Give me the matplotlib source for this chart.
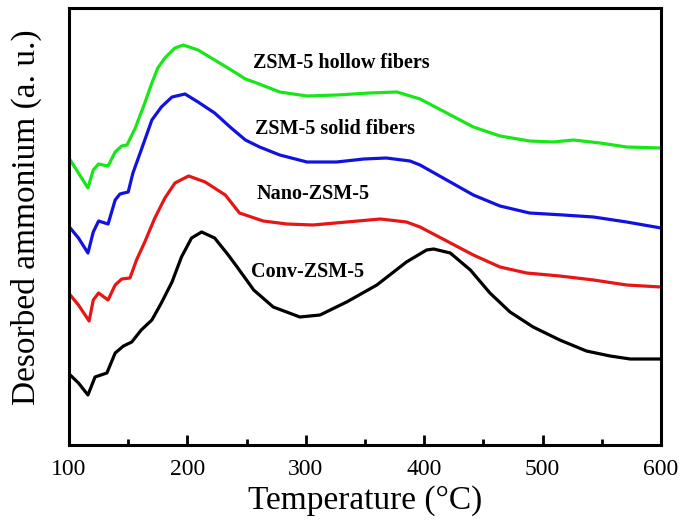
import matplotlib.pyplot as plt
from matplotlib.ticker import MultipleLocator

# Temperature (°C) and desorbed ammonium signal (a. u., curves offset vertically)
t_hollow = [101, 108, 116, 120.5, 125, 133, 139, 144.5, 149, 156, 164, 170, 175, 181,
            189.5, 196.5, 209, 223, 237, 249, 258.5, 278, 301, 326, 354, 377, 396.5,
            419, 441.5, 464, 489, 509, 526, 548.5, 571, 600]
hollow = [285, 272, 257, 275, 281, 279, 293, 299, 300, 317, 342, 362, 377, 387,
          397, 400, 395, 385, 375, 366, 362, 353, 349, 350, 352, 353, 346,
          332, 318, 309, 304, 303, 305, 302, 298, 297]

t_solid = [101, 108, 116, 120.5, 125, 133, 139, 143, 150, 154, 161, 170, 178, 187,
           198, 209, 223, 237, 249, 261, 278, 301, 326, 349, 368, 388, 396.5, 419,
           441.5, 464, 489, 517.5, 543, 571, 600]
solid = [217, 207, 192, 213, 224, 221, 245, 251, 253, 272, 295, 325, 338, 348,
         351, 343, 332, 317, 305, 298, 290, 283, 283, 286, 287, 284, 280, 265,
         250, 239, 232, 230, 228, 223, 217]

t_nano = [101, 108, 117, 120.5, 125, 133, 139, 144.5, 151.5, 157, 164, 172.5, 181,
          189.5, 201, 215, 232, 244, 264, 284, 306, 334.5, 363, 385, 396.5, 419,
          441.5, 464, 486.5, 514.5, 543, 571, 600]
nano = [150, 140, 124, 145, 152, 145, 160, 166, 167, 185, 203, 227, 247,
        262, 269, 263, 250, 232, 224, 221, 220, 223, 226, 223, 218, 204,
        190, 178, 172, 169, 165, 160, 158]

t_conv = [101, 108, 116, 122, 132, 139, 146, 153, 161, 170, 178, 187, 195, 203.5,
          212, 223, 234.5, 242, 256, 272.5, 295, 312, 334.5, 360, 385, 402, 408,
          422, 439, 455.5, 472.5, 492, 514.5, 537, 557, 574, 600]
conv = [70, 62, 50, 68, 72, 92, 99, 103, 115, 125, 142, 163, 188, 207,
        213, 207, 190, 178, 155, 138, 128, 130, 143, 160, 183, 195, 196,
        192, 175, 152, 133, 118, 105, 94, 89, 86, 86]

labels = ['ZSM-5 hollow fibers', 'ZSM-5 solid fibers', 'Nano-ZSM-5', 'Conv-ZSM-5']
label_x = [330, 325, 306, 301.5]
label_y = [382, 316, 251, 173]

colors = ['#19e619', '#1212e0', '#e81515', 'black']

fig = plt.figure(figsize=(6.85, 5.31), dpi=100)
ax = fig.add_axes([69 / 685, 1 - 445 / 531, 592 / 685, 437 / 531])

series = [(t_hollow, hollow), (t_solid, solid), (t_nano, nano), (t_conv, conv)]
for (t, y), c in zip(series, colors):
    ax.plot(t, y, color=c, linewidth=2.3, solid_joinstyle='round')

for lab, lx, ly in zip(labels, label_x, label_y):
    ax.text(lx, ly, lab, ha='center', va='center', fontsize=14.5,
            fontweight='bold', family='Liberation Serif')

ax.set_xlim(100, 600)
ax.set_ylim(0, 437)
ax.set_xticks([100, 200, 300, 400, 500, 600])
ax.xaxis.set_minor_locator(MultipleLocator(50))
ax.set_yticks([])
ax.tick_params(axis='x', which='major', direction='in', length=7, width=2, pad=10,
               labelsize=17)
ax.tick_params(axis='x', which='minor', direction='in', length=4, width=2)
for lbl in ax.get_xticklabels():
    lbl.set_family('Liberation Serif')
for sp in ax.spines.values():
    sp.set_linewidth(2.2)

ax.set_xlabel('Temperature (°C)', family='Liberation Serif', fontsize=24, labelpad=4)
ax.set_ylabel('Desorbed ammonium (a. u.)', family='Liberation Serif', fontsize=24)
ax.yaxis.set_label_coords(-0.045, 0.522)

fig.savefig('out.png', dpi=100)
